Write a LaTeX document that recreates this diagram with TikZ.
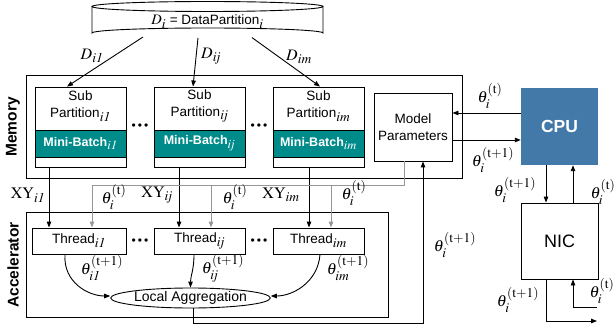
\documentclass[tikz,border=0pt]{standalone}
\usepackage{mathptmx}
\usepackage[no-math]{fontspec}
\setmainfont{Liberation Sans}
\usetikzlibrary{arrows.meta,shapes.geometric}
\definecolor{batchteal}{RGB}{0,139,139}
\definecolor{cpublue}{RGB}{66,121,169}
\definecolor{feedgray}{RGB}{150,150,150}
\DeclareMathSizes{13.5}{14.5}{13.5}{9}
\DeclareMathSizes{12.5}{13}{12.5}{8}
\DeclareMathSizes{16}{16}{13.5}{10}

\begin{document}
\begin{tikzpicture}[x=1pt,y=-1pt,
        every node/.style={font=\fontsize{13.5}{17}\selectfont,inner sep=0pt},
        box/.style={draw,line width=0.9pt},
        batch/.style={draw,line width=0.9pt,fill=batchteal,text=white,
            font=\bfseries\fontsize{12.5}{14}\selectfont,minimum width=91pt,minimum height=27pt},
        sidelbl/.style={rotate=90,font=\bfseries\fontsize{15.5}{17}\selectfont},
        tlbl/.style={font=\fontsize{16}{18}\selectfont},
        dotsep/.style={font=\fontsize{12}{12}\selectfont},
        arr/.style={line width=0.9pt,-{Triangle[length=6pt,width=4.5pt]}},
        garr/.style={arr,draw=feedgray}]
        \useasboundingbox (0,0) rectangle (615,331);

        \draw[line width=0.9pt] (207.5,6.5) ellipse [x radius=115.5, y radius=5];
        \draw[line width=0.9pt] (92,6.5) -- (92,33) arc[start angle=180, end angle=360, x radius=115.5, y radius=5] -- (323,6.5);
        \node (dp) at (207.5,22) {$D_i$ = DataPartition$_i$};
        \coordinate (dsrc1) at (143,37);
        \coordinate (dsrc2) at (198,38);
        \coordinate (dsrc3) at (252,37.6);

        \node[box,minimum width=436pt,minimum height=103pt] (mem) at (244,126.5) {};
        \node[sidelbl] (memlbl) at (13,127) {Memory};
        \node[box,minimum width=362pt,minimum height=105pt] (acc) at (207,264.5) {};
        \node[sidelbl] (acclbl) at (13,265) {Accelerator};

        \node[box,minimum width=91pt,minimum height=80pt] (sp1) at (80.5,127) {};
        \node[box,minimum width=91pt,minimum height=80pt] (sp2) at (199.5,127) {};
        \node[box,minimum width=91pt,minimum height=80pt] (sp3) at (318.5,127) {};
        \node[align=center] (st1) at (80.5,106) {Sub\\Partition$_{\mathit{i1}}$};
        \node[align=center] (st2) at (199.5,106) {Sub\\Partition$_{\mathit{ij}}$};
        \node[align=center] (st3) at (318.5,106) {Sub\\Partition$_{\mathit{im}}$};
        \node[batch] (mb1) at (80.5,143.5) {Mini-Batch$_{\mathit{i1}}$};
        \node[batch] (mb2) at (199.5,143.5) {Mini-Batch$_{\mathit{ij}}$};
        \node[batch] (mb3) at (318.5,143.5) {Mini-Batch$_{\mathit{im}}$};
        \node[dotsep] (dm1) at (140,127) {\textbullet\,\textbullet\,\textbullet};
        \node[dotsep] (dm2) at (259,127) {\textbullet\,\textbullet\,\textbullet};

        \node[box,align=center,minimum width=78pt,minimum height=68pt] (mp) at (413,127) {Model\\Parameters};
        \node[fill=cpublue,text=white,font=\bfseries\fontsize{17.5}{20}\selectfont,minimum width=77pt,minimum height=77pt] (cpu) at (559.5,126.5) {CPU};
        \node[box,font=\fontsize{18}{20}\selectfont,minimum width=77pt,minimum height=76pt] (nic) at (559.5,241) {NIC};

        \node[box,minimum width=94pt,minimum height=26pt] (t1) at (79,241) {Thread$_{\mathit{i1}}$};
        \node[box,minimum width=91pt,minimum height=26pt] (t2) at (199.5,241) {Thread$_{\mathit{ij}}$};
        \node[box,minimum width=91pt,minimum height=26pt] (t3) at (318.5,241) {Thread$_{\mathit{im}}$};
        \node[dotsep] (dt1) at (140,242) {\textbullet\,\textbullet\,\textbullet};
        \node[dotsep] (dt2) at (259,242) {\textbullet\,\textbullet\,\textbullet};
        \node[box,ellipse,font=\fontsize{14}{16}\selectfont,minimum width=155pt,minimum height=20pt] (la) at (190.5,298) {Local Aggregation};

        \draw[arr] (dsrc1) -- ([xshift=-13.5pt]sp1.north);
        \draw[arr] (dsrc2) -- ([xshift=-6.5pt]sp2.north);
        \draw[arr] (dsrc3) -- ([xshift=1.5pt]sp3.north);
        \node[tlbl] (d1) at (92,56) {$D_{\mathit{i1}}$};
        \node[tlbl] (d2) at (211,56) {$D_{\mathit{ij}}$};
        \node[tlbl] (d3) at (299,57) {$D_{\mathit{im}}$};

        \coordinate (xa1) at (49,0);
        \coordinate (xa2) at (179,0);
        \coordinate (xa3) at (309,0);
        \draw[arr] (sp1.south -| xa1) -- (t1.north -| xa1);
        \draw[arr] (sp2.south -| xa2) -- (t2.north -| xa2);
        \draw[arr] (sp3.south -| xa3) -- (t3.north -| xa3);
        \node[tlbl] (xy1) at (28,195) {$\mathrm{XY}_{\mathit{i1}}$};
        \node[tlbl] (xy2) at (157,195) {$\mathrm{XY}_{\mathit{ij}}$};
        \node[tlbl] (xy3) at (281,195) {$\mathrm{XY}_{\mathit{im}}$};

        \coordinate (gbus) at (0,185);
        \coordinate (gx1) at (92,0);
        \coordinate (gx2) at (211,0);
        \coordinate (gx3) at (331,0);
        \draw[garr] ([xshift=-9pt]mp.south) |- (gx1 |- gbus) -- (t1.north -| gx1);
        \draw[garr] (gx2 |- gbus) -- (t2.north -| gx2);
        \draw[garr] (gx3 |- gbus) -- (t3.north -| gx3);
        \node[tlbl] (g1) at (114,197) {$\theta_i^{(\mathrm{t})}$};
        \node[tlbl] (g2) at (235,197) {$\theta_i^{(\mathrm{t})}$};
        \node[tlbl] (g3) at (354,193) {$\theta_i^{(\mathrm{t})}$};

        \draw[arr] ([xshift=-14pt]t1.south) .. controls (63,282) and (88,296) .. ([yshift=2pt]la.west);
        \draw[arr] ([xshift=-5.5pt]t2.south) .. controls (194,270) and (190.5,276) .. (la.north);
        \draw[arr] ([xshift=1.5pt]t3.south) .. controls (318,282) and (293,296) .. ([yshift=2pt]la.east);
        \node[tlbl] (o1) at (102,268) {$\theta_{\mathit{i1}}^{(\mathrm{t+1})}$};
        \node[tlbl] (o2) at (223,268) {$\theta_{\mathit{ij}}^{(\mathrm{t+1})}$};
        \node[tlbl] (o3) at (348,268) {$\theta_{\mathit{im}}^{(\mathrm{t+1})}$};

        \coordinate (fb) at (0,323);
        \draw[arr] ([xshift=2.5pt]la.south) -- ([xshift=2.5pt]la.south |- fb) -| ([xshift=10pt]mp.south);
        \node[tlbl] (fblbl) at (455,245) {$\theta_i^{(\mathrm{t+1})}$};

        \coordinate (cin) at ([yshift=13.5pt]cpu.west);
        \coordinate (cout) at ([yshift=-13.5pt]cpu.west);
        \draw[arr] (cin) -- (cin -| mp.east);
        \draw[arr] (cout -| mp.east) -- (cout);
        \node[tlbl] (cinlbl) at (490,96) {$\theta_i^{(\mathrm{t})}$};
        \node[tlbl] (coutlbl) at (493,160) {$\theta_i^{(\mathrm{t+1})}$};

        \coordinate (nd) at ([xshift=-13.5pt]cpu.south);
        \coordinate (nu) at ([xshift=13.5pt]nic.north);
        \draw[arr] (nd) -- (nd |- nic.north);
        \draw[arr] (nu) -- (nu |- cpu.south);
        \node[tlbl] (ndlbl) at (515,190) {$\theta_i^{(\mathrm{t+1})}$};
        \node[tlbl] (nulbl) at (603,192) {$\theta_i^{(\mathrm{t})}$};

        \coordinate (nout) at ([xshift=-13.5pt]nic.south);
        \coordinate (outend) at (597,321);
        \coordinate (instart) at (597,307);
        \draw[arr] (nout) |- (outend);
        \draw[arr] (instart) -| ([xshift=13.5pt]nic.south);
        \node[tlbl] (noutlbl) at (518,300) {$\theta_i^{(\mathrm{t+1})}$};
        \node[tlbl] (ninlbl) at (602,291) {$\theta_i^{(\mathrm{t})}$};
\end{tikzpicture}
\end{document}
